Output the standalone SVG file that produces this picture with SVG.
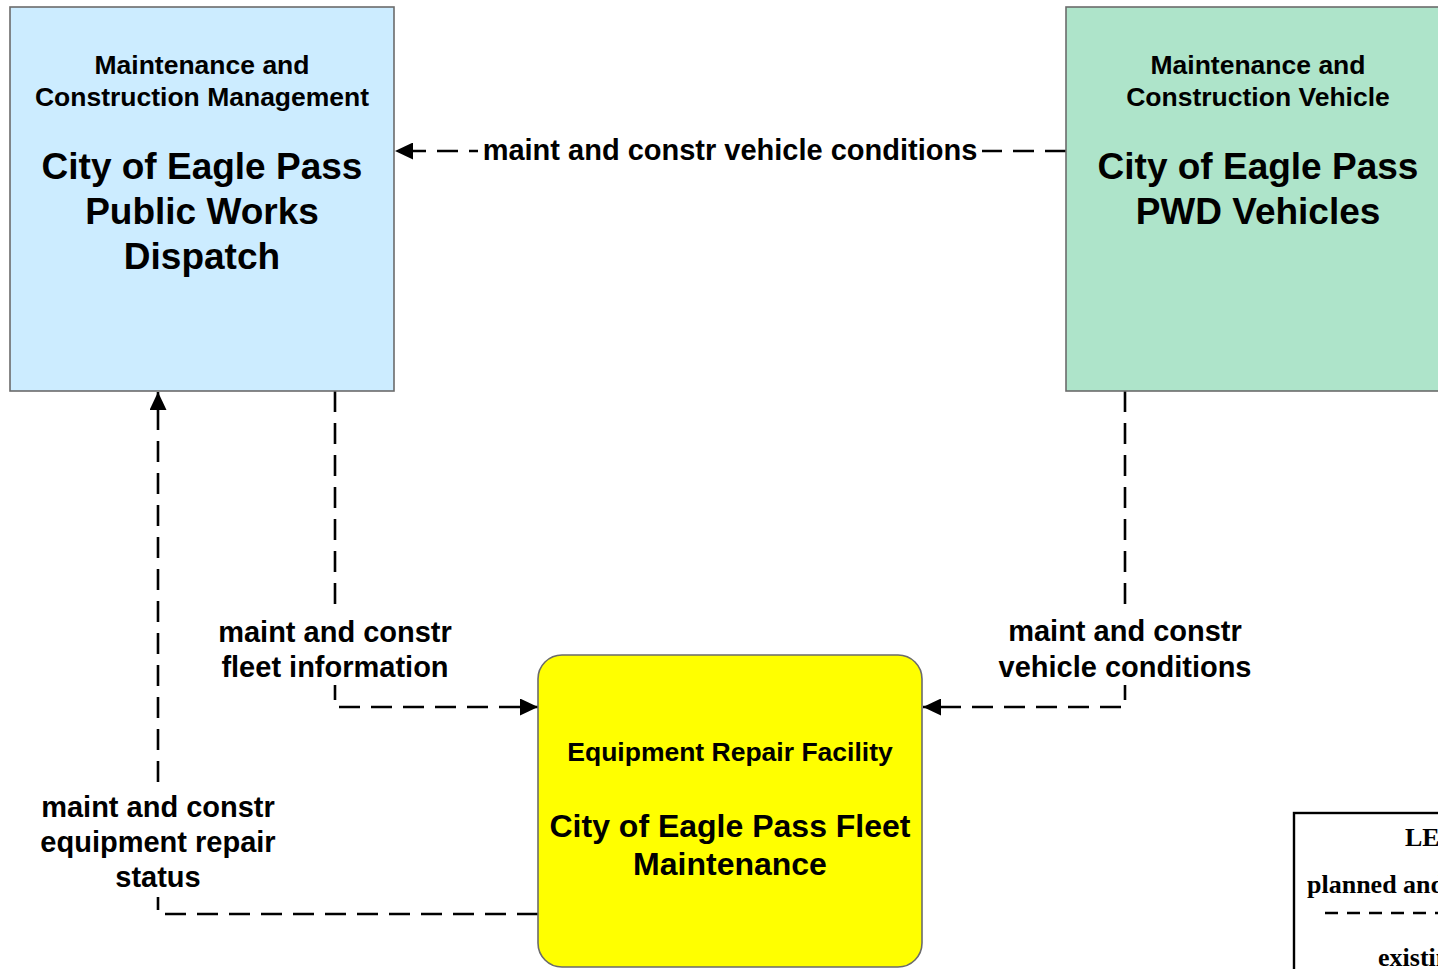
<svg xmlns="http://www.w3.org/2000/svg" width="1438" height="969" viewBox="0 0 1438 969">
<style>
.box{stroke:#6b6b6b;stroke-width:1.6}
.sub{font-family:"Liberation Sans",Arial,sans-serif;font-weight:bold;font-size:26.5px;text-anchor:middle;fill:#000}
.title{font-family:"Liberation Sans",Arial,sans-serif;font-weight:bold;font-size:37px;text-anchor:middle;fill:#000}
.title2{font-family:"Liberation Sans",Arial,sans-serif;font-weight:bold;font-size:32px;text-anchor:middle;fill:#000}
.lbl{font-family:"Liberation Sans",Arial,sans-serif;font-weight:bold;font-size:29px;text-anchor:middle;fill:#000}
.flow{fill:none;stroke:#000;stroke-width:2.6;stroke-dasharray:21 11}
.leg{font-family:"Liberation Serif","Times New Roman",serif;font-weight:bold;font-size:26px;fill:#000}
</style>
<defs>
<marker id="ah" viewBox="0 0 18 17" refX="18" refY="8.5" markerWidth="18" markerHeight="17" markerUnits="userSpaceOnUse" orient="auto">
<path d="M0,0 L18,8.5 L0,17 Z" fill="#000"/>
</marker>
</defs>
<rect width="1438" height="969" fill="#fff"/>

<g id="connectors">
<path class="flow" d="M1066,151 L395,151" marker-end="url(#ah)"/>
<path class="flow" d="M335,391 L335,707 L538,707" marker-end="url(#ah)"/>
<path class="flow" d="M1125,391 L1125,707 L923,707" marker-end="url(#ah)"/>
<path class="flow" d="M538,914 L158,914 L158,392" marker-end="url(#ah)"/>
<g id="label-vehicle-conditions-top">
<rect x="478" y="136" width="504" height="30" fill="#fff"/>
<text class="lbl" x="730" y="160">maint and constr vehicle conditions</text>
</g>
<g id="label-fleet-info">
<rect x="215" y="614" width="240" height="71" fill="#fff"/>
<text class="lbl" x="335" y="642">maint and constr</text>
<text class="lbl" x="335" y="677">fleet information</text>
</g>
<g id="label-vehicle-conditions">
<rect x="995" y="614" width="260" height="71" fill="#fff"/>
<text class="lbl" x="1125" y="641">maint and constr</text>
<text class="lbl" x="1125" y="677">vehicle conditions</text>
</g>
<g id="label-repair-status">
<rect x="36" y="786" width="244" height="111" fill="#fff"/>
<text class="lbl" x="158" y="817">maint and constr</text>
<text class="lbl" x="158" y="852">equipment repair</text>
<text class="lbl" x="158" y="887">status</text>
</g>
</g>

<g id="node-dispatch">
<rect class="box" x="10" y="7" width="384" height="384" fill="#CCECFF"/>
<text class="sub" x="202" y="74">Maintenance and</text>
<text class="sub" x="202" y="106">Construction Management</text>
<text class="title" x="202" y="179">City of Eagle Pass</text>
<text class="title" x="202" y="224">Public Works</text>
<text class="title" x="202" y="269">Dispatch</text>
</g>

<g id="node-vehicles">
<rect class="box" x="1066" y="7" width="384" height="384" fill="#AEE4CA"/>
<text class="sub" x="1258" y="74">Maintenance and</text>
<text class="sub" x="1258" y="106">Construction Vehicle</text>
<text class="title" x="1258" y="179">City of Eagle Pass</text>
<text class="title" x="1258" y="224">PWD Vehicles</text>
</g>

<g id="node-fleet">
<rect class="box" x="538" y="655" width="384" height="312" rx="24" ry="24" fill="#FFFF00"/>
<text class="sub" x="730" y="761">Equipment Repair Facility</text>
<text class="title2" x="730" y="837">City of Eagle Pass Fleet</text>
<text class="title2" x="730" y="875">Maintenance</text>
</g>

<g id="legend">
<rect x="1294" y="813" width="340" height="200" fill="#fff" stroke="#000" stroke-width="2.4"/>
<text class="leg" x="1405" y="846">LEGEND</text>
<text class="leg" x="1307" y="893">planned and future</text>
<line x1="1325" y1="913" x2="1520" y2="913" stroke="#000" stroke-width="2.6" stroke-dasharray="13 9"/>
<text class="leg" x="1378" y="966">existing</text>
</g>
</svg>
